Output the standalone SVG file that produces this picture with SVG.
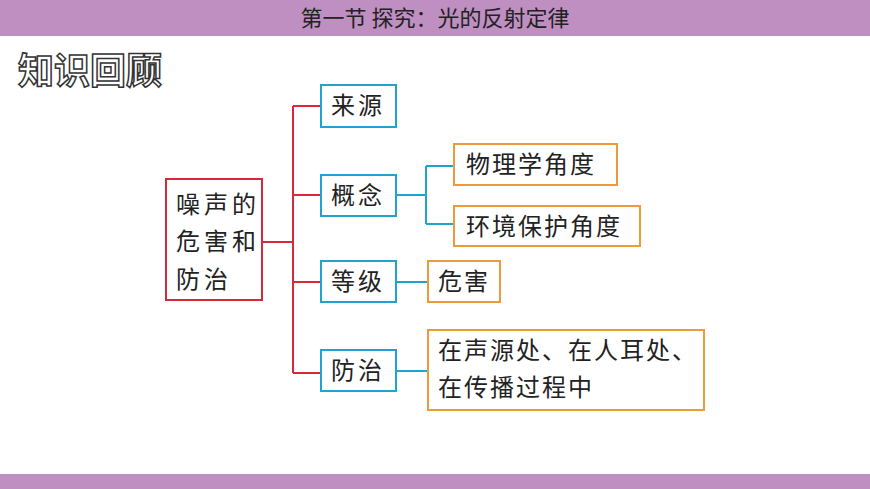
<svg xmlns="http://www.w3.org/2000/svg" width="870" height="489" viewBox="0 0 870 489">
<style>
.t{font-family:"Noto Sans CJK SC","Liberation Sans",sans-serif;font-size:24px;fill:#222}
.r{fill:#fff;stroke:#d8293a;stroke-width:2}
.b{fill:#fff;stroke:#22a3cf;stroke-width:2}
.o{fill:#fff;stroke:#ec9a3a;stroke-width:2}
</style>
<rect width="870" height="489" fill="#fff"/>
<rect width="870" height="36" fill="#bf8fc2"/>
<rect y="474" width="870" height="15" fill="#bf8fc2"/>
<text x="435" y="26" text-anchor="middle" font-family="Noto Sans CJK SC,sans-serif" font-size="22" fill="#222">第一节  探究：光的反射定律</text>
<text x="18" y="84" font-family="Noto Sans CJK SC,sans-serif" font-size="36" font-weight="bold" fill="#fff" stroke="#333" stroke-width="1.5">知识回顾</text>
<g id="connectors" fill="none" stroke-width="2">
<path d="M262 242H293M293 106V373M293 106H321M293 195H321M293 282H321M293 373H321" stroke="#d8293a"/>
<path d="M396 195H426M426 166V224M426 166H454M426 224H454M396 282H428M396 371H428" stroke="#22a3cf"/>
</g>
<g id="root"><rect class="r" x="166" y="179" width="96" height="121"/>
<text class="t" x="176" y="213" letter-spacing="4">噪声的</text><text class="t" x="176" y="250" letter-spacing="4">危害和</text><text class="t" x="176" y="288" letter-spacing="4">防治</text></g>
<g id="n1"><rect class="b" x="321" y="85" width="75" height="42"/><text class="t" x="358" y="114" text-anchor="middle" letter-spacing="3">来源</text></g>
<g id="n2"><rect class="b" x="321" y="175" width="75" height="41"/><text class="t" x="358" y="204" text-anchor="middle" letter-spacing="3">概念</text></g>
<g id="n3"><rect class="b" x="321" y="261" width="75" height="41"/><text class="t" x="358" y="290" text-anchor="middle" letter-spacing="3">等级</text></g>
<g id="n4"><rect class="b" x="321" y="350" width="75" height="41"/><text class="t" x="358" y="379" text-anchor="middle" letter-spacing="3">防治</text></g>
<g id="n5"><rect class="o" x="454" y="144" width="163" height="41"/><text class="t" x="466" y="173" letter-spacing="2">物理学角度</text></g>
<g id="n6"><rect class="o" x="454" y="206" width="186" height="40"/><text class="t" x="466" y="235" letter-spacing="2">环境保护角度</text></g>
<g id="n7"><rect class="o" x="428" y="261" width="72" height="41"/><text class="t" x="438" y="290" letter-spacing="2">危害</text></g>
<g id="n8"><rect class="o" x="428" y="330" width="276" height="80"/><text class="t" x="438" y="359" letter-spacing="2">在声源处、在人耳处、</text><text class="t" x="438" y="396" letter-spacing="2">在传播过程中</text></g>
</svg>
